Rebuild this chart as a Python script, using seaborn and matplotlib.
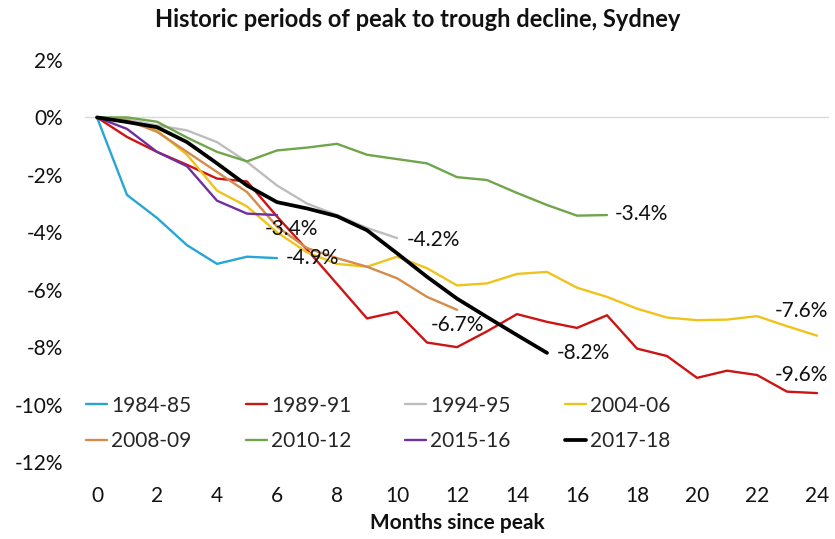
import matplotlib
matplotlib.use('Agg')
import matplotlib.pyplot as plt
import pandas as pd
import seaborn as sns
from matplotlib.ticker import FuncFormatter, MultipleLocator

# % change in dwelling values since the peak, one value per month
periods = ['1984-85', '1989-91', '1994-95', '2004-06', '2008-09', '2010-12', '2015-16', '2017-18']
chg_1984_85 = [0, -2.7, -3.5, -4.45, -5.1, -4.85, -4.9]
chg_1989_91 = [0, -0.68, -1.2, -1.65, -2.13, -2.23, -3.45, -4.6, -5.8, -7.0, -6.77, -7.84, -8.0,
               -7.45, -6.85, -7.12, -7.33, -6.89, -8.05, -8.31, -9.07, -8.82, -8.97, -9.55, -9.6]
chg_1994_95 = [0, -0.07, -0.28, -0.45, -0.86, -1.55, -2.37, -3.0, -3.4, -3.85, -4.2]
chg_2004_06 = [0, -0.1, -0.45, -1.3, -2.55, -3.1, -4.0, -4.7, -5.1, -5.2, -4.85, -5.25, -5.85,
               -5.78, -5.45, -5.38, -5.93, -6.25, -6.66, -6.97, -7.06, -7.04, -6.92, -7.27, -7.6]
chg_2008_09 = [0, -0.1, -0.5, -1.2, -1.9, -2.6, -3.8, -4.55, -4.9, -5.2, -5.6, -6.25, -6.7]
chg_2010_12 = [0, 0.0, -0.15, -0.7, -1.2, -1.53, -1.15, -1.05, -0.92, -1.3, -1.45, -1.6, -2.08,
               -2.18, -2.63, -3.05, -3.42, -3.4]
chg_2015_16 = [0, -0.4, -1.2, -1.7, -2.9, -3.35, -3.4]
chg_2017_18 = [0, -0.16, -0.34, -0.86, -1.6, -2.37, -2.95, -3.17, -3.44, -3.93, -4.73, -5.55, -6.31,
               -6.95, -7.58, -8.2]

series = [chg_1984_85, chg_1989_91, chg_1994_95, chg_2004_06,
          chg_2008_09, chg_2010_12, chg_2015_16, chg_2017_18]

colours = ['#27A6D6', '#CC1414', '#BDBDBD', '#F0C31C', '#D48B4C', '#6FA54B', '#6E309E', '#000000']
widths = [1.7, 1.7, 1.7, 1.7, 1.7, 1.7, 1.7, 2.7]

# where the end-of-line value labels sit, offset in points from the last point
label_pos = {
    '1984-85': ((6.5, 0), 'left'),
    '1989-91': ((-11, 13), 'center'),
    '1994-95': ((7, -1.5), 'left'),
    '2004-06': ((-11, 18), 'center'),
    '2008-09': ((0, -11), 'center'),
    '2010-12': ((5.5, 0.5), 'left'),
    '2015-16': ((-8.5, -10), 'left'),
    '2017-18': ((7, 0), 'left'),
}

df = pd.concat([pd.DataFrame({'month': range(len(v)), 'change': v, 'period': p})
                for p, v in zip(periods, series)], ignore_index=True)

sns.set_theme(style='white')
plt.rcParams['font.family'] = ['Lato', 'DejaVu Sans']
plt.rcParams['axes.unicode_minus'] = False
fs = 15

fig = plt.figure(figsize=(8.35, 5.39), dpi=100)
ax = fig.add_axes([85 / 835, 1 - 462 / 539, 744 / 835, 402 / 539])

sns.lineplot(data=df, x='month', y='change', hue='period', size='period',
             palette=dict(zip(periods, colours)), sizes=dict(zip(periods, widths)),
             ax=ax, legend='full')

ax.axhline(0, color='#D9D9D9', lw=1, zorder=0)

for p, v in zip(periods, series):
    off, ha = label_pos[p]
    ax.annotate(f'{v[-1]:.1f}%', xy=(len(v) - 1, v[-1]), xytext=off, textcoords='offset points',
                ha=ha, va='center', fontsize=fs, color='#111111')

ax.set_xlim(-0.4, 24.4)
ax.set_ylim(-12, 2)
ax.xaxis.set_major_locator(MultipleLocator(2))
ax.yaxis.set_major_locator(MultipleLocator(2))
ax.yaxis.set_major_formatter(FuncFormatter(lambda v, pos: f'{v:.0f}%'))
ax.tick_params(axis='y', length=0, pad=16, labelsize=fs, labelcolor='#111111')
ax.tick_params(axis='x', length=0, pad=17, labelsize=fs, labelcolor='#111111')
sns.despine(ax=ax, left=True, bottom=True)
ax.set_ylabel('')
ax.set_xlabel('Months since peak', fontsize=fs, fontweight='bold', labelpad=5, color='#111111')

handles, labels = ax.get_legend_handles_labels()
order = [0, 4, 1, 5, 2, 6, 3, 7]
ax.legend([handles[i] for i in order], [labels[i] for i in order], ncol=4, frameon=False,
          loc='upper left', bbox_to_anchor=(0.002, 0.165), fontsize=fs,
          handlelength=1.0, handletextpad=0.2, columnspacing=2.6, labelspacing=0.75,
          borderpad=0, borderaxespad=0)

fig.suptitle('Historic periods of peak to trough decline, Sydney', x=0.5, y=0.985,
             fontsize=17, fontweight='bold', va='top', color='#111111')

fig.savefig('out.png', dpi=100)
